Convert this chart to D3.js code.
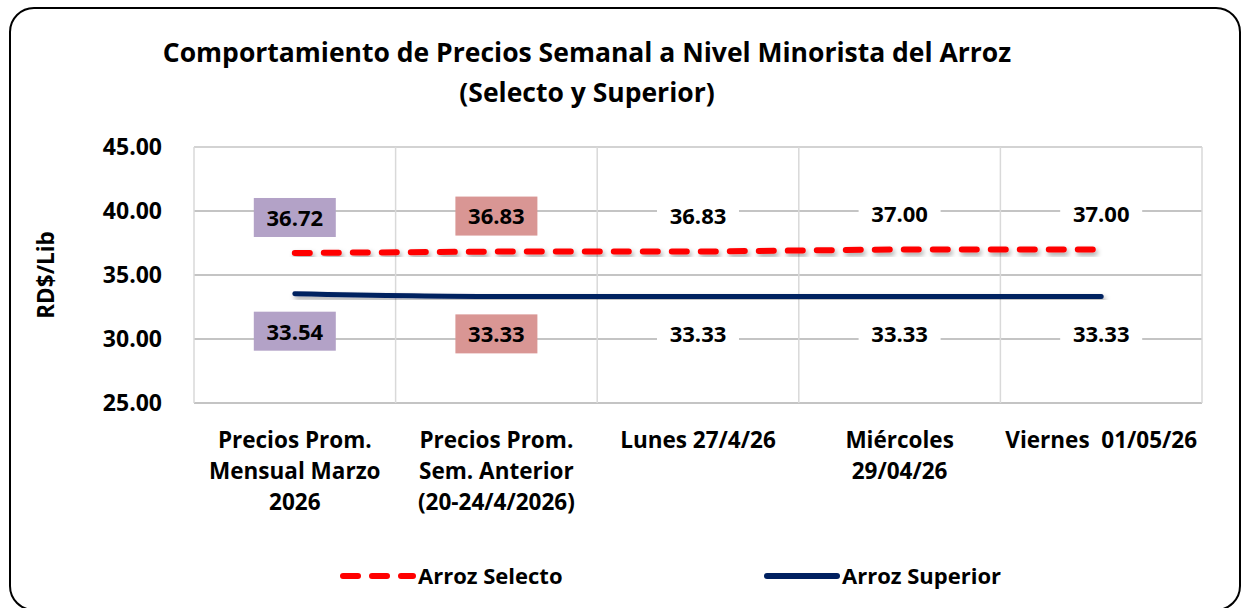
<!DOCTYPE html>
<html>
<head>
<meta charset="utf-8">
<script src="https://cdn.jsdelivr.net/npm/d3@7"></script>
<style>
body { margin: 0; background: #fff; }
text { font-family: "Open Sans", "Lato", sans-serif; font-weight: bold; fill: #000; }
.grid-h { stroke: #b0b0b0; stroke-width: 1.5; }
.grid-v { stroke: #d9d9d9; stroke-width: 1.5; }
</style>
</head>
<body>
<div id="chart"></div>
<script>
// data
var categories = [
    ["Precios Prom.", "Mensual Marzo", "2026"],
    ["Precios Prom.", "Sem. Anterior", "(20-24/4/2026)"],
    ["Lunes 27/4/26"],
    ["Miércoles", "29/04/26"],
    ["Viernes\u00a0 01/05/26"]
];
var selecto = [36.72, 36.83, 36.83, 37.00, 37.00];
var superior = [33.54, 33.33, 33.33, 33.33, 33.33];
var yTicks = [25, 30, 35, 40, 45];
var labelFill = ["#b3a2c7", "#d99694", "#fff", "#fff", "#fff"];

var W = 1246, H = 608;
var margin = { top: 147, right: 44, bottom: 205, left: 194 };
var width = W - margin.left - margin.right,
    height = H - margin.top - margin.bottom;

var svg = d3.select("#chart").append("svg")
    .attr("width", W)
    .attr("height", H);

var defs = svg.append("defs");
var f = defs.append("filter").attr("id", "shadow")
    .attr("x", "-5%").attr("y", "-100%").attr("width", "110%").attr("height", "300%");
f.append("feDropShadow")
    .attr("dx", 2).attr("dy", 3).attr("stdDeviation", 2.5)
    .attr("flood-color", "#000").attr("flood-opacity", 0.35);

// outer border
svg.append("rect")
    .attr("x", 10).attr("y", 8)
    .attr("width", W - 16).attr("height", H - 6)
    .attr("rx", 24)
    .attr("fill", "#fff")
    .attr("stroke", "#000")
    .attr("stroke-width", 2);

// title
svg.append("text")
    .attr("x", 587).attr("y", 62)
    .attr("text-anchor", "middle")
    .style("font-size", "26.5px")
    .text("Comportamiento de Precios Semanal a Nivel Minorista del Arroz");
svg.append("text")
    .attr("x", 587).attr("y", 102)
    .attr("text-anchor", "middle")
    .style("font-size", "26.5px")
    .text("(Selecto y Superior)");

var g = svg.append("g")
    .attr("transform", "translate(" + margin.left + "," + margin.top + ")");

var x = d3.scaleBand()
    .domain(d3.range(categories.length))
    .range([0, width]);
var y = d3.scaleLinear()
    .domain([25, 45])
    .range([height, 0]);

// grid
g.selectAll(".grid-h")
    .data(yTicks)
    .enter().append("line")
    .attr("class", "grid-h")
    .attr("x1", 0).attr("x2", width)
    .attr("y1", function(d) { return y(d); })
    .attr("y2", function(d) { return y(d); });
g.selectAll(".grid-v")
    .data(d3.range(categories.length + 1))
    .enter().append("line")
    .attr("class", "grid-v")
    .attr("x1", function(d) { return d * x.step(); })
    .attr("x2", function(d) { return d * x.step(); })
    .attr("y1", 0).attr("y2", height);
g.append("line").attr("class", "grid-v")
    .attr("x1", 0).attr("x2", width).attr("y1", 0).attr("y2", 0);

// y axis
var yAxis = d3.axisLeft(y)
    .tickValues(yTicks)
    .tickSize(0)
    .tickPadding(32)
    .tickFormat(d3.format(".2f"));
var yAxisElem = g.append("g").call(yAxis);
yAxisElem.select(".domain").remove();
yAxisElem.selectAll("text")
    .style("font-size", "23px")
    .style("font-family", "'Open Sans', sans-serif");

svg.append("text")
    .attr("transform", "translate(46," + (margin.top + height / 2) + ") rotate(-90)")
    .attr("text-anchor", "middle")
    .attr("dy", "0.35em")
    .style("font-size", "22.5px")
    .text("RD$/Lib");

// x labels
var xl = g.append("g").selectAll("text")
    .data(categories)
    .enter().append("text")
    .attr("text-anchor", "middle")
    .attr("x", function(d, i) { return x(i) + x.bandwidth() / 2; })
    .attr("y", height + 45)
    .style("font-size", "22.5px");
xl.selectAll("tspan")
    .data(function(d) { return d; })
    .enter().append("tspan")
    .attr("x", function() { return this.parentNode.getAttribute("x"); })
    .attr("dy", function(d, i) { return i === 0 ? 0 : 31; })
    .text(function(d) { return d; });

// lines
var cx = function(d, i) { return x(i) + x.bandwidth() / 2; };
var lineSel = d3.line().x(cx).y(function(d) { return y(d); });
var lineSup = d3.line().x(cx).y(function(d) { return y(d); }).curve(d3.curveMonotoneX);

g.append("path")
    .attr("d", lineSup(superior))
    .attr("fill", "none")
    .attr("stroke", "#002060")
    .attr("stroke-width", 5)
    .attr("stroke-linecap", "round")
    .attr("filter", "url(#shadow)");
g.append("path")
    .attr("d", lineSel(selecto))
    .attr("fill", "none")
    .attr("stroke", "#ff0000")
    .attr("stroke-width", 6)
    .attr("stroke-linecap", "round")
    .attr("stroke-dasharray", "15 14")
    .attr("filter", "url(#shadow)");

// data labels
function labels(data, dy) {
    var lg = g.append("g").selectAll("g")
        .data(data)
        .enter().append("g")
        .attr("transform", function(d, i) {
            return "translate(" + cx(d, i) + "," + (y(d) + dy) + ")";
        });
    lg.append("rect")
        .attr("x", -41).attr("y", -20)
        .attr("width", 82).attr("height", 39)
        .attr("fill", function(d, i) { return labelFill[i]; });
    lg.append("text")
        .attr("text-anchor", "middle")
        .attr("dy", "0.36em")
        .style("font-size", "22px")
        .text(function(d) { return d3.format(".2f")(d); });
}
labels(selecto, -35);
labels(superior, 38);

// legend
var legend = svg.append("g").attr("transform", "translate(0,576)");
legend.append("line")
    .attr("x1", 343).attr("x2", 413)
    .attr("stroke", "#ff0000").attr("stroke-width", 6)
    .attr("stroke-linecap", "round")
    .attr("stroke-dasharray", "15 14");
legend.append("text")
    .attr("x", 418).attr("dy", "0.36em")
    .style("font-size", "22px")
    .text("Arroz Selecto");
legend.append("line")
    .attr("x1", 767).attr("x2", 837)
    .attr("stroke", "#002060").attr("stroke-width", 6)
    .attr("stroke-linecap", "round");
legend.append("text")
    .attr("x", 842).attr("dy", "0.36em")
    .style("font-size", "22px")
    .text("Arroz Superior");
</script>
</body>
</html>
